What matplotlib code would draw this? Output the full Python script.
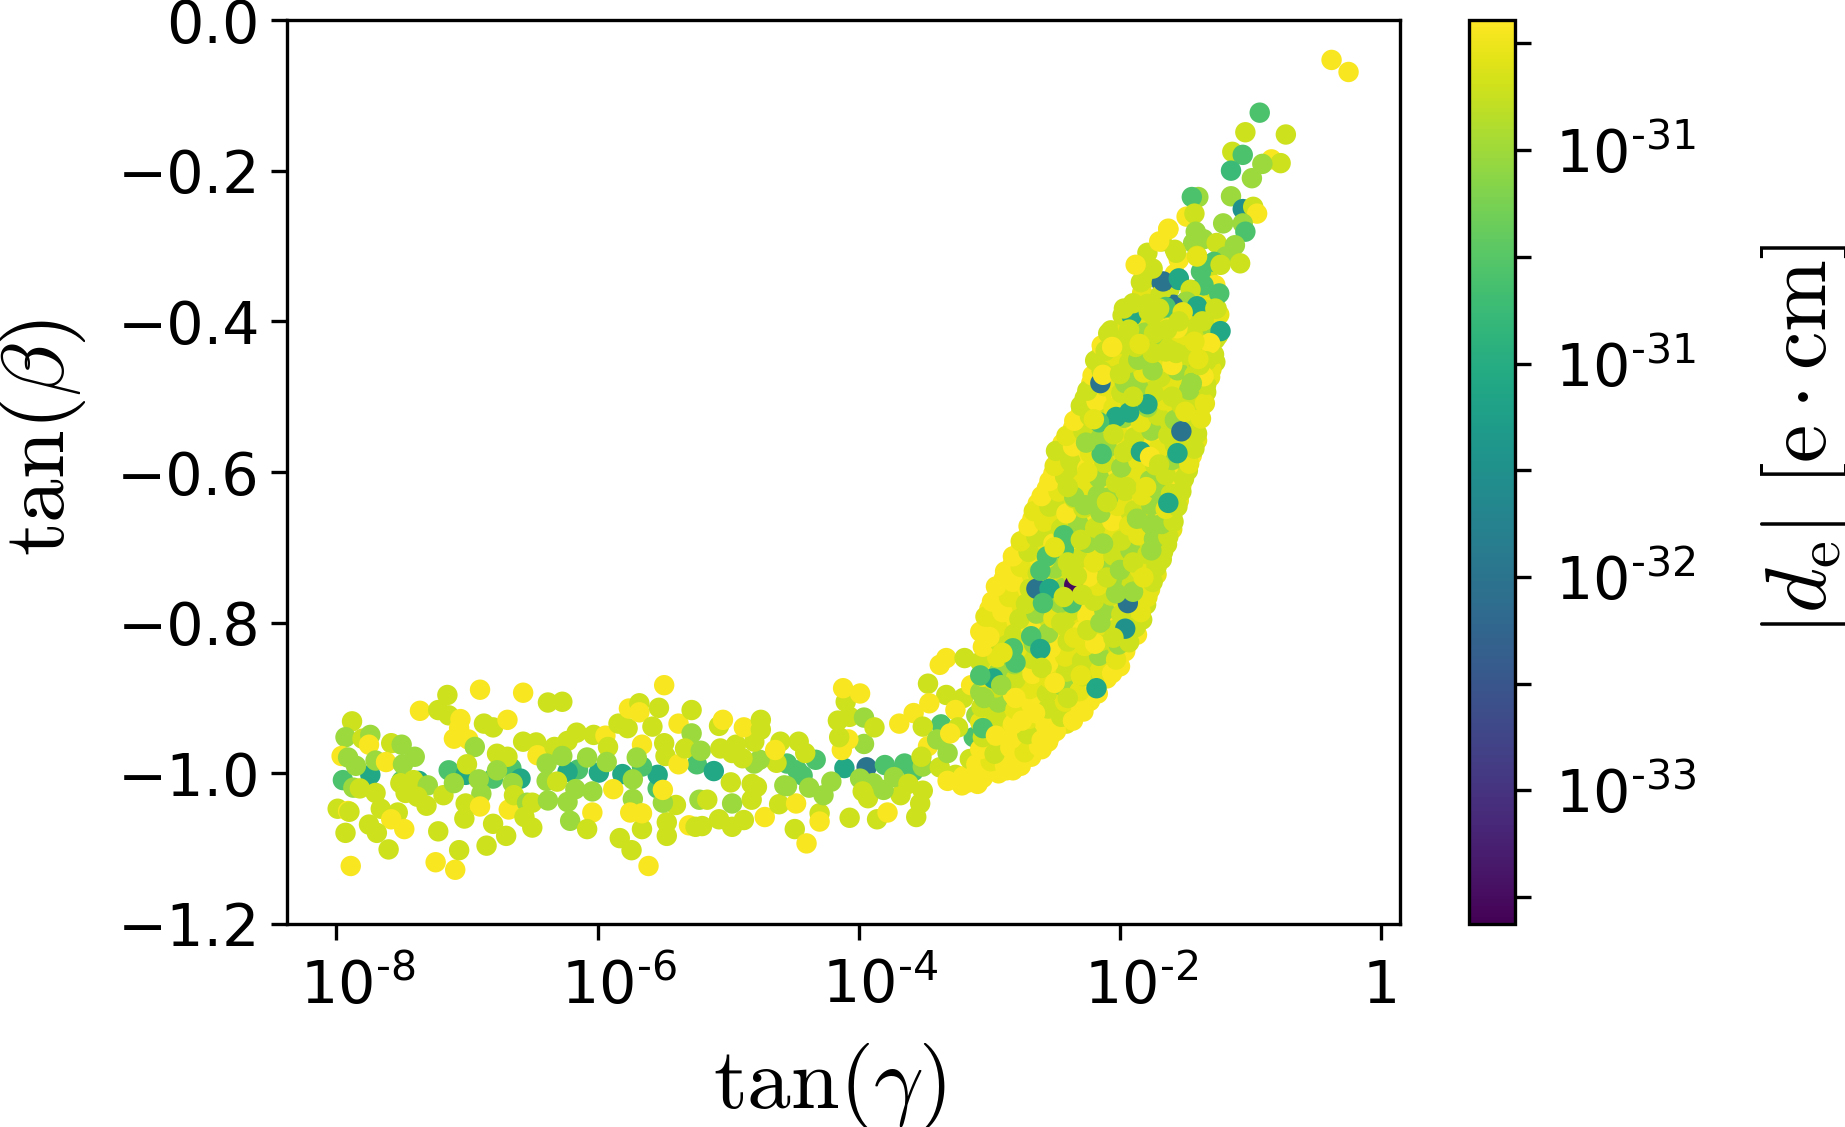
import matplotlib
matplotlib.use("Agg")
import matplotlib.pyplot as plt
from matplotlib.transforms import ScaledTranslation
import numpy as np

# colour levels, log10 of |d_e|
Y = -30.46
H = -30.54
L = -30.63
G = -30.82
M = -31.15
T = -31.45
B = -32.00
P = -32.90

# low tan(gamma) plateau
plateau_log_gamma = [
    -7.88, -7.93, -7.80, -7.74, -7.75, -7.58, -7.50, -7.40, -7.96, -7.91, -7.85, -7.70, -7.62, -7.49,
    -7.74, -7.95, -7.87, -7.82, -7.70, -7.51, -7.50, -7.41, -7.37, -7.30, -7.18, -7.47, -7.38, -7.31,
    -7.99, -7.91, -7.90, -7.66, -7.53, -7.58, -7.75, -7.69, -7.93, -7.48, -7.60, -7.89, -7.24, -7.09,
    -7.06, -7.22, -7.36, -7.22, -7.15, -6.90, -6.57, -6.38, -6.27, -7.14, -7.05, -7.06, -7.10, -6.99,
    -6.94, -7.00, -7.14, -7.10, -6.91, -7.01, -6.87, -6.80, -6.69, -6.77, -6.69, -6.77, -6.66, -6.80,
    -6.65, -6.59, -6.89, -7.01, -6.90, -7.02, -6.80, -6.70, -6.85, -6.68, -6.64, -6.54, -6.50, -6.56,
    -6.50, -6.57, -6.47, -6.46, -6.33, -6.23, -6.16, -6.39, -6.27, -6.15, -6.08, -5.99, -6.23, -6.39,
    -6.31, -6.17, -6.04, -6.38, -6.23, -6.21, -6.04, -6.08, -6.03, -5.94, -5.92, -5.93, -5.81, -5.88,
    -5.73, -5.73, -5.83, -5.74, -5.61, -5.66, -5.66, -5.75, -5.47, -5.47, -5.40, -5.50, -5.50, -5.54,
    -5.54, -5.84, -5.77, -5.76, -5.68, -5.68, -5.53, -5.49, -5.58, -5.38, -5.28, -5.28, -5.49, -5.66,
    -5.70, -5.66, -5.48, -5.38, -5.33, -5.21, -5.24, -5.11, -5.30, -5.20, -5.25, -5.22, -5.16, -5.07,
    -4.97, -4.88, -4.72, -4.97, -4.98, -4.82, -4.78, -4.82, -4.61, -4.48, -4.49, -4.40, -4.57, -4.55,
    -4.38, -4.43, -4.47, -4.33, -4.55, -4.63, -4.76, -4.80, -4.89, -4.97, -5.06, -4.94, -4.80, -4.60,
    -4.46, -4.41, -4.64, -5.07, -5.04, -4.88, -4.75, -4.75, -4.30, -4.30, -4.07, -3.86, -3.78, -3.56,
    -3.53, -3.51, -3.68, -4.27, -4.21, -3.99, -4.11, -3.94, -3.89, -3.97, -3.93, -3.81, -3.80, -3.65,
    -3.58, -3.73, -3.62, -3.51, -3.38, -3.32, -3.26, -3.20, -3.32, -3.09, -3.21, -3.15, -2.99, -3.47,
    -3.52, -3.96, -4.13, -4.08, -4.15, -4.16, -4.10, -4.12, -3.99, -4.07, -3.96, -3.88, -3.69, -3.58,
    -3.51, -3.47, -3.33, -3.20, -3.14, -3.46, -3.26, -3.38, -3.33, -3.19, -3.37, -3.24, -3.12, -3.10,
    -3.40, -3.30,
]
plateau_tan_beta = [
    -0.931, -0.952, -0.954, -0.949, -0.962, -0.960, -0.962, -0.978, -0.977, -0.979, -0.990, -0.983, -0.985, -0.988,
    -1.002, -1.009, -1.019, -1.020, -1.026, -1.013, -1.010, -1.009, -1.010, -1.016, -1.029, -1.026, -1.031, -1.043,
    -1.047, -1.050, -1.051, -1.047, -1.052, -1.061, -1.068, -1.079, -1.079, -1.074, -1.101, -1.123, -1.118, -1.128,
    -1.102, -1.077, -0.917, -0.916, -0.896, -0.889, -0.893, -0.906, -0.905, -0.923, -0.928, -0.940, -0.954, -0.955,
    -0.965, -0.988, -0.996, -1.013, -1.008, -1.002, -0.934, -0.939, -0.929, -0.974, -0.978, -0.996, -0.993, -1.007,
    -1.013, -1.007, -1.027, -1.040, -1.044, -1.060, -1.067, -1.083, -1.096, -1.048, -1.029, -1.039, -1.039, -1.058,
    -1.072, -0.958, -0.959, -0.976, -0.965, -0.957, -0.946, -0.987, -0.977, -0.995, -0.979, -0.999, -0.998, -1.010,
    -1.011, -1.021, -1.024, -1.036, -1.038, -1.063, -1.052, -1.074, -0.949, -0.950, -0.965, -0.985, -1.001, -1.021,
    -1.008, -1.034, -1.086, -1.102, -1.123, -1.074, -1.053, -1.052, -1.083, -1.065, -1.042, -1.039, -1.022, -1.020,
    -1.002, -0.934, -0.940, -0.914, -0.907, -0.919, -0.913, -0.883, -0.938, -0.934, -0.916, -0.947, -0.960, -0.962,
    -0.979, -0.991, -0.977, -0.988, -0.967, -0.970, -0.988, -0.997, -1.069, -1.070, -1.071, -1.035, -1.035, -1.061,
    -1.071, -1.062, -1.058, -1.040, -1.012, -1.014, -1.018, -1.035, -1.041, -1.040, -1.074, -1.093, -1.016, -1.017,
    -1.019, -1.003, -0.996, -0.982, -0.987, -0.986, -0.982, -0.987, -0.980, -0.973, -0.967, -0.962, -0.958, -0.958,
    -0.958, -0.973, -0.969, -0.937, -0.929, -0.939, -0.929, -0.942, -1.053, -1.064, -1.059, -1.061, -1.052, -1.058,
    -1.040, -1.023, -1.029, -1.029, -1.011, -1.007, -0.993, -0.992, -1.013, -1.024, -1.033, -1.022, -0.989, -0.987,
    -0.997, -1.005, -1.014, -0.991, -0.992, -0.973, -1.002, -1.004, -1.010, -1.014, -1.016, -0.981, -0.991, -0.964,
    -0.978, -0.961, -0.969, -0.955, -0.952, -0.930, -0.905, -0.887, -0.894, -0.925, -0.926, -0.939, -0.934, -0.920,
    -0.938, -0.881, -0.896, -0.900, -0.883, -0.907, -0.916, -0.856, -0.847, -0.847, -0.935, -0.939, -0.952, -0.923,
    -0.955, -0.947,
]
plateau_log_de = [
    L, G, L, G, Y, L, G, G, Y, G, G, G, Y, G,
    T, M, G, L, L, L, M, L, T, G, L, L, L, L,
    L, Y, L, L, L, Y, L, L, L, Y, L, Y, Y, Y,
    L, L, Y, L, L, Y, Y, L, L, L, Y, Y, Y, Y,
    G, L, M, G, G, T, L, L, Y, L, L, G, M, M,
    G, T, G, L, Y, L, L, L, L, Y, L, G, L, L,
    L, L, L, Y, L, L, L, G, G, M, G, T, T, G,
    L, G, G, G, G, G, Y, L, L, Y, L, G, T, Y,
    G, G, L, L, Y, L, Y, Y, L, L, L, G, Y, M,
    T, L, L, Y, L, Y, L, Y, L, Y, L, G, L, Y,
    G, M, L, Y, L, G, M, T, Y, L, L, G, L, L,
    L, L, Y, G, L, L, L, L, L, Y, L, Y, G, G,
    G, M, M, M, M, L, G, G, L, L, L, L, L, L,
    L, L, Y, L, Y, Y, L, L, L, Y, L, L, Y, L,
    L, L, L, G, G, G, T, B, G, L, L, G, M, M,
    M, G, L, G, L, G, L, Y, Y, Y, Y, L, Y, Y,
    L, G, Y, Y, L, L, L, Y, Y, L, G, L, Y, Y,
    L, L, L, L, Y, Y, Y, Y, Y, L, M, L, M, G,
    G, Y,
]

# dense rising band, one line per level of tan(beta)
band_log_gamma = [
    -3.16, -3.05, -2.93, -2.82,
    -3.10, -2.99, -2.88, -2.78, -2.68,
    -3.07, -2.96, -2.84, -2.73, -2.62, -2.55,
    -3.05, -2.94, -2.83, -2.71, -2.60, -2.49,
    -3.07, -2.95, -2.82, -2.70, -2.57, -2.45, -2.36,
    -3.06, -2.93, -2.80, -2.68, -2.55, -2.42, -2.30, -2.23,
    -3.07, -2.95, -2.82, -2.69, -2.56, -2.43, -2.31, -2.19,
    -3.05, -2.93, -2.80, -2.67, -2.54, -2.41, -2.28, -2.15, -2.06,
    -3.07, -2.94, -2.81, -2.68, -2.55, -2.42, -2.29, -2.16, -2.03,
    -3.05, -2.92, -2.79, -2.66, -2.53, -2.40, -2.27, -2.14, -2.01, -1.93,
    -3.07, -2.94, -2.81, -2.68, -2.55, -2.42, -2.29, -2.16, -2.03, -1.88,
    -3.03, -2.90, -2.77, -2.64, -2.51, -2.38, -2.25, -2.12, -1.99, -1.84,
    -2.98, -2.85, -2.72, -2.59, -2.46, -2.33, -2.20, -2.07, -1.94, -1.79,
    -2.95, -2.82, -2.69, -2.56, -2.43, -2.30, -2.17, -2.04, -1.91, -1.75,
    -2.88, -2.76, -2.63, -2.50, -2.37, -2.24, -2.11, -1.98, -1.85, -1.72,
    -2.82, -2.70, -2.57, -2.44, -2.31, -2.18, -2.05, -1.92, -1.79, -1.67,
    -2.76, -2.64, -2.51, -2.38, -2.25, -2.12, -1.99, -1.86, -1.74, -1.63,
    -2.70, -2.58, -2.45, -2.32, -2.19, -2.06, -1.93, -1.80, -1.68, -1.59,
    -2.66, -2.54, -2.41, -2.28, -2.15, -2.02, -1.89, -1.76, -1.65, -1.56,
    -2.60, -2.47, -2.35, -2.22, -2.09, -1.96, -1.83, -1.71, -1.61, -1.53,
    -2.54, -2.42, -2.29, -2.16, -2.03, -1.90, -1.77, -1.65, -1.51,
    -2.50, -2.38, -2.25, -2.12, -1.99, -1.86, -1.73, -1.60, -1.47,
    -2.49, -2.36, -2.23, -2.10, -1.97, -1.84, -1.71, -1.58, -1.43,
    -2.41, -2.28, -2.15, -2.02, -1.89, -1.76, -1.63, -1.50, -1.41,
    -2.35, -2.23, -2.10, -1.97, -1.84, -1.71, -1.58, -1.45, -1.38,
    -2.30, -2.18, -2.05, -1.92, -1.79, -1.66, -1.53, -1.40, -1.35,
    -2.25, -2.12, -1.99, -1.86, -1.73, -1.60, -1.47, -1.34,
    -2.21, -2.08, -1.95, -1.82, -1.69, -1.56, -1.43, -1.30,
    -2.19, -2.06, -1.93, -1.80, -1.67, -1.54, -1.41, -1.28,
    -2.14, -2.01, -1.88, -1.75, -1.62, -1.49, -1.36, -1.27,
    -2.07, -1.94, -1.81, -1.68, -1.55, -1.42, -1.29,
    -1.98, -1.86, -1.73, -1.60, -1.47, -1.34, -1.24,
]
band_tan_beta = [
    -1.012, -1.006, -1.000, -0.996,
    -0.988, -0.984, -0.990, -0.982, -0.978,
    -0.968, -0.974, -0.966, -0.972, -0.964, -0.958,
    -0.952, -0.946, -0.954, -0.948, -0.956, -0.944,
    -0.932, -0.926, -0.935, -0.928, -0.934, -0.925, -0.930,
    -0.912, -0.906, -0.915, -0.908, -0.914, -0.905, -0.911, -0.904,
    -0.892, -0.886, -0.895, -0.888, -0.894, -0.885, -0.891, -0.884,
    -0.872, -0.866, -0.875, -0.868, -0.874, -0.865, -0.871, -0.864, -0.867,
    -0.852, -0.846, -0.855, -0.848, -0.854, -0.845, -0.851, -0.844, -0.849,
    -0.832, -0.826, -0.835, -0.828, -0.834, -0.825, -0.831, -0.824, -0.829, -0.826,
    -0.812, -0.806, -0.815, -0.808, -0.814, -0.805, -0.811, -0.804, -0.809, -0.806,
    -0.792, -0.786, -0.795, -0.788, -0.794, -0.785, -0.791, -0.784, -0.789, -0.786,
    -0.772, -0.766, -0.775, -0.768, -0.774, -0.765, -0.771, -0.764, -0.769, -0.766,
    -0.752, -0.746, -0.755, -0.748, -0.754, -0.745, -0.751, -0.744, -0.749, -0.746,
    -0.732, -0.726, -0.735, -0.728, -0.734, -0.725, -0.731, -0.724, -0.729, -0.726,
    -0.712, -0.706, -0.715, -0.708, -0.714, -0.705, -0.711, -0.704, -0.709, -0.706,
    -0.692, -0.686, -0.695, -0.688, -0.694, -0.685, -0.691, -0.684, -0.689, -0.686,
    -0.672, -0.666, -0.675, -0.668, -0.674, -0.665, -0.671, -0.664, -0.669, -0.666,
    -0.652, -0.646, -0.655, -0.648, -0.654, -0.645, -0.651, -0.644, -0.649, -0.646,
    -0.632, -0.626, -0.635, -0.628, -0.634, -0.625, -0.631, -0.624, -0.629, -0.626,
    -0.612, -0.606, -0.615, -0.608, -0.614, -0.605, -0.611, -0.604, -0.609,
    -0.592, -0.586, -0.595, -0.588, -0.594, -0.585, -0.591, -0.584, -0.589,
    -0.572, -0.566, -0.575, -0.568, -0.574, -0.565, -0.571, -0.564, -0.569,
    -0.552, -0.546, -0.555, -0.548, -0.554, -0.545, -0.551, -0.544, -0.549,
    -0.532, -0.526, -0.535, -0.528, -0.534, -0.525, -0.531, -0.524, -0.529,
    -0.512, -0.506, -0.515, -0.508, -0.514, -0.505, -0.511, -0.504, -0.509,
    -0.492, -0.486, -0.495, -0.488, -0.494, -0.485, -0.491, -0.484,
    -0.472, -0.466, -0.475, -0.468, -0.474, -0.465, -0.471, -0.464,
    -0.452, -0.446, -0.455, -0.448, -0.454, -0.445, -0.451, -0.444,
    -0.432, -0.426, -0.435, -0.428, -0.434, -0.425, -0.431, -0.424,
    -0.412, -0.406, -0.415, -0.408, -0.414, -0.405, -0.411,
    -0.392, -0.386, -0.395, -0.388, -0.394, -0.385, -0.391,
]
band_log_de = [
    Y, Y, Y, Y,
    Y, H, Y, Y, Y,
    Y, L, Y, H, Y, Y,
    L, H, Y, L, Y, Y,
    H, L, Y, H, Y, L, Y,
    L, G, H, Y, L, H, Y, Y,
    G, L, Y, H, L, G, H, Y,
    H, G, L, Y, H, L, L, H, Y,
    L, H, G, L, Y, H, L, G, H,
    Y, L, H, G, Y, L, H, L, G, L,
    Y, H, L, Y, G, L, Y, H, L, L,
    H, Y, L, G, H, L, Y, G, L, H,
    Y, H, L, L, G, H, L, L, G, H,
    Y, Y, L, H, G, L, H, G, L, L,
    Y, H, L, G, L, H, G, L, H, L,
    Y, L, H, G, L, H, L, G, L, L,
    H, L, Y, L, G, H, L, H, G, L,
    Y, H, L, G, L, Y, H, L, G, L,
    H, L, Y, L, G, H, L, G, H, L,
    Y, H, L, H, G, L, H, G, L, L,
    Y, L, H, G, L, H, G, L, L,
    H, L, Y, L, G, H, L, G, H,
    L, Y, H, G, L, Y, H, L, L,
    H, L, G, H, L, G, L, H, L,
    Y, L, H, G, H, L, G, L, H,
    L, Y, H, L, G, H, L, L, H,
    L, H, L, G, L, H, G, L,
    Y, L, G, H, L, G, L, H,
    L, H, L, G, H, L, G, L,
    Y, L, H, G, L, H, L, L,
    L, H, G, L, H, L, G,
    L, H, L, G, L, L, H,
]

# second layer of the band, between the levels above, lying underneath
fill_log_gamma = [
    -3.10, -2.98, -2.87, -2.76,
    -3.04, -2.93, -2.82, -2.71, -2.60,
    -3.01, -2.89, -2.77, -2.66, -2.54,
    -3.00, -2.88, -2.76, -2.64, -2.52, -2.41,
    -3.01, -2.88, -2.76, -2.63, -2.50, -2.38, -2.28,
    -3.00, -2.88, -2.75, -2.62, -2.49, -2.37, -2.25, -2.17,
    -3.01, -2.88, -2.75, -2.62, -2.49, -2.35, -2.22, -2.10,
    -3.00, -2.87, -2.74, -2.61, -2.48, -2.35, -2.22, -2.09, -2.00,
    -2.98, -2.85, -2.72, -2.59, -2.46, -2.33, -2.20, -2.07, -1.96,
    -3.00, -2.87, -2.74, -2.61, -2.48, -2.35, -2.22, -2.09, -1.96, -1.87,
    -3.00, -2.87, -2.74, -2.61, -2.48, -2.35, -2.22, -2.09, -1.96, -1.83,
    -3.00, -2.84, -2.71, -2.58, -2.45, -2.32, -2.19, -2.06, -1.93, -1.80,
    -2.92, -2.79, -2.66, -2.53, -2.40, -2.27, -2.14, -2.01, -1.88, -1.77,
    -2.89, -2.76, -2.63, -2.50, -2.37, -2.24, -2.11, -1.98, -1.85, -1.72,
    -2.82, -2.69, -2.56, -2.43, -2.30, -2.17, -2.04, -1.91, -1.78, -1.68,
    -2.76, -2.63, -2.50, -2.37, -2.24, -2.11, -1.98, -1.85, -1.72, -1.64,
    -2.70, -2.57, -2.44, -2.31, -2.18, -2.05, -1.92, -1.80, -1.68, -1.60,
    -2.67, -2.52, -2.39, -2.26, -2.13, -2.00, -1.87, -1.74, -1.60,
    -2.63, -2.48, -2.35, -2.22, -2.09, -1.96, -1.83, -1.70, -1.55,
    -2.56, -2.44, -2.31, -2.18, -2.05, -1.92, -1.79, -1.66, -1.53,
    -2.51, -2.36, -2.23, -2.10, -1.97, -1.84, -1.71, -1.58, -1.48,
    -2.47, -2.32, -2.19, -2.06, -1.93, -1.80, -1.67, -1.54, -1.45,
    -2.44, -2.30, -2.17, -2.04, -1.91, -1.78, -1.65, -1.52, -1.41,
    -2.36, -2.22, -2.09, -1.96, -1.83, -1.70, -1.57, -1.44,
    -2.30, -2.17, -2.04, -1.91, -1.78, -1.65, -1.52, -1.38,
    -2.27, -2.12, -1.99, -1.86, -1.73, -1.60, -1.47, -1.34,
    -2.22, -2.06, -1.93, -1.80, -1.67, -1.54, -1.41, -1.31,
    -2.17, -2.02, -1.89, -1.76, -1.63, -1.50, -1.37, -1.27,
    -2.14, -1.97, -1.84, -1.71, -1.58, -1.45, -1.32,
    -2.02, -1.89, -1.76, -1.63, -1.50, -1.37, -1.25,
    -1.92, -1.80, -1.67, -1.54, -1.41, -1.28,
    -1.90, -1.78, -1.55, -1.30,
    -1.83, -1.62, -1.42, -1.29,
    -1.78, -1.58, -1.33,
]
fill_tan_beta = [
    -0.998, -0.993, -0.996, -0.990,
    -0.980, -0.975, -0.978, -0.972, -0.968,
    -0.960, -0.956, -0.962, -0.957, -0.952,
    -0.942, -0.937, -0.941, -0.936, -0.940, -0.934,
    -0.922, -0.917, -0.921, -0.916, -0.920, -0.915, -0.918,
    -0.902, -0.897, -0.901, -0.896, -0.900, -0.895, -0.899, -0.894,
    -0.882, -0.877, -0.881, -0.876, -0.880, -0.875, -0.879, -0.874,
    -0.862, -0.857, -0.861, -0.856, -0.860, -0.855, -0.859, -0.854, -0.858,
    -0.842, -0.837, -0.841, -0.836, -0.840, -0.835, -0.839, -0.834, -0.838,
    -0.822, -0.817, -0.821, -0.816, -0.820, -0.815, -0.819, -0.814, -0.818, -0.816,
    -0.802, -0.797, -0.801, -0.796, -0.800, -0.795, -0.799, -0.794, -0.798, -0.796,
    -0.782, -0.777, -0.781, -0.776, -0.780, -0.775, -0.779, -0.774, -0.778, -0.776,
    -0.762, -0.757, -0.761, -0.756, -0.760, -0.755, -0.759, -0.754, -0.758, -0.756,
    -0.742, -0.737, -0.741, -0.736, -0.740, -0.735, -0.739, -0.734, -0.738, -0.736,
    -0.722, -0.717, -0.721, -0.716, -0.720, -0.715, -0.719, -0.714, -0.718, -0.716,
    -0.702, -0.697, -0.701, -0.696, -0.700, -0.695, -0.699, -0.694, -0.698, -0.696,
    -0.682, -0.677, -0.681, -0.676, -0.680, -0.675, -0.679, -0.674, -0.678, -0.676,
    -0.662, -0.657, -0.661, -0.656, -0.660, -0.655, -0.659, -0.654, -0.658,
    -0.642, -0.637, -0.641, -0.636, -0.640, -0.635, -0.639, -0.634, -0.638,
    -0.622, -0.617, -0.621, -0.616, -0.620, -0.615, -0.619, -0.614, -0.618,
    -0.602, -0.597, -0.601, -0.596, -0.600, -0.595, -0.599, -0.594, -0.598,
    -0.582, -0.577, -0.581, -0.576, -0.580, -0.575, -0.579, -0.574, -0.578,
    -0.562, -0.557, -0.561, -0.556, -0.560, -0.555, -0.559, -0.554, -0.558,
    -0.542, -0.537, -0.541, -0.536, -0.540, -0.535, -0.539, -0.534,
    -0.522, -0.517, -0.521, -0.516, -0.520, -0.515, -0.519, -0.514,
    -0.502, -0.497, -0.501, -0.496, -0.500, -0.495, -0.499, -0.494,
    -0.482, -0.477, -0.481, -0.476, -0.480, -0.475, -0.479, -0.474,
    -0.462, -0.457, -0.461, -0.456, -0.460, -0.455, -0.459, -0.454,
    -0.442, -0.437, -0.441, -0.436, -0.440, -0.435, -0.439,
    -0.422, -0.417, -0.421, -0.416, -0.420, -0.415, -0.419,
    -0.402, -0.397, -0.401, -0.396, -0.400, -0.395,
    -0.382, -0.377, -0.381, -0.376,
    -0.362, -0.357, -0.361, -0.356,
    -0.342, -0.337, -0.341,
]
fill_log_de = [
    Y, Y, Y, Y,
    Y, Y, H, Y, Y,
    Y, H, Y, Y, Y,
    Y, Y, H, Y, Y, H,
    Y, H, Y, Y, H, Y, Y,
    Y, Y, H, Y, Y, L, Y, Y,
    Y, L, Y, H, Y, Y, H, Y,
    Y, H, Y, Y, L, Y, H, Y, Y,
    Y, Y, H, L, Y, H, Y, L, Y,
    Y, L, Y, H, Y, L, H, Y, L, Y,
    Y, Y, H, L, Y, H, L, Y, H, L,
    Y, H, Y, L, H, Y, L, H, Y, L,
    Y, Y, H, L, Y, H, L, Y, L, H,
    Y, H, Y, L, H, L, Y, H, L, H,
    Y, Y, L, H, Y, L, H, L, Y, L,
    Y, H, L, Y, H, L, Y, L, H, L,
    Y, L, H, Y, L, H, L, Y, L, H,
    Y, H, L, Y, H, L, H, Y, L,
    Y, L, H, Y, L, H, Y, L, H,
    Y, H, L, H, Y, L, H, L, Y,
    Y, L, H, Y, L, H, L, Y, L,
    H, Y, L, H, Y, L, H, L, Y,
    Y, L, H, Y, L, H, Y, L, H,
    Y, H, L, Y, H, L, H, L,
    Y, L, H, L, Y, H, L, H,
    L, H, Y, L, H, L, Y, L,
    Y, L, H, L, Y, H, L, H,
    L, H, L, Y, H, L, H, L,
    Y, L, H, L, H, Y, L,
    L, H, Y, L, H, L, L,
    L, H, L, Y, L, H,
    L, Y, L, H,
    H, L, H, L,
    L, Y, L,
]

# points that stay visible on top of the band and the sparse upper tip
top_log_gamma = [
    -1.91, -1.79, -1.93, -2.03, -2.15, -2.16, -2.14, -1.84, -1.56, -1.63, -1.53, -2.35, -2.64, -2.54,
    -2.61, -2.43, -2.43, -2.56, -2.59, -2.37, -1.94, -1.96, -2.68, -2.82, -2.80, -2.97, -2.91, -2.18,
    -2.61, -2.19, -3.00, -1.90, -2.03, -2.43, -1.76, -1.76, -2.13, -1.87, -2.27, -2.17, -2.35, -2.26,
    -1.86, -1.75, -1.45, -1.96, -1.66, -1.49, -1.36, -1.59, -1.41, -1.68, -1.55, -1.57, -2.09, -2.11,
    -2.14, -1.96, -1.74, -1.90, -1.78, -1.69, -1.26, -1.36, -1.31,
    -0.38, -0.25, -0.93, -1.04, -0.73, -1.14, -1.06, -0.84, -0.77, -0.91, -1.15, -0.99, -1.15, -1.40,
    -1.45, -1.06, -0.98, -0.95, -1.49, -1.43, -1.21, -1.06, -1.04, -1.63, -1.42, -1.36, -1.26, -1.44,
    -1.12, -1.68, -1.58, -1.19, -1.41, -1.55, -1.28, -1.08, -1.23, -1.38, -1.67, -1.55, -1.27, -1.36,
    -1.24, -1.46, -1.49, -1.59, -1.41, -1.65, -1.27, -1.37, -1.47, -1.56, -1.63, -1.23, -1.31, -1.49,
    -1.60, -1.39, -1.60, -1.34, -1.36, -1.45,
    -1.79, -1.70, -1.63, -1.84, -1.75, -1.88, -1.57, -1.41, -1.79, -1.97, -1.70, -1.52, -1.64, -1.93,
    -2.06, -1.88, -1.75, -1.43, -1.57, -1.39,
]
top_tan_beta = [
    -0.393, -0.510, -0.521, -0.527, -0.482, -0.534, -0.576, -0.573, -0.575, -0.641, -0.546, -0.750, -0.755, -0.755,
    -0.731, -0.684, -0.703, -0.712, -0.774, -0.774, -0.774, -0.808, -0.818, -0.834, -0.853, -0.874, -0.883, -0.887,
    -0.835, -0.828, -0.819, -0.759, -0.761, -0.766, -0.670, -0.704, -0.695, -0.662, -0.644, -0.631, -0.633, -0.561,
    -0.451, -0.465, -0.482, -0.482, -0.381, -0.373, -0.352, -0.378, -0.381, -0.349, -0.345, -0.409, -0.416, -0.439,
    -0.466, -0.431, -0.416, -0.376, -0.387, -0.365, -0.383, -0.399, -0.429,
    -0.053, -0.069, -0.123, -0.149, -0.152, -0.175, -0.179, -0.185, -0.190, -0.191, -0.200, -0.210, -0.234, -0.235,
    -0.235, -0.251, -0.248, -0.257, -0.261, -0.257, -0.270, -0.270, -0.281, -0.277, -0.281, -0.291, -0.296, -0.296,
    -0.299, -0.294, -0.305, -0.314, -0.313, -0.318, -0.321, -0.323, -0.325, -0.334, -0.347, -0.343, -0.352, -0.352,
    -0.363, -0.358, -0.374, -0.380, -0.380, -0.381, -0.383, -0.400, -0.407, -0.409, -0.409, -0.413, -0.429, -0.445,
    -0.442, -0.451, -0.458, -0.453, -0.473, -0.482,
    -0.309, -0.294, -0.278, -0.348, -0.330, -0.325, -0.309, -0.314, -0.377, -0.383, -0.383, -0.388, -0.411, -0.411,
    -0.434, -0.434, -0.442, -0.427, -0.442, -0.458,
]
top_log_de = [
    T, T, T, T, B, M, M, T, T, T, B, P, B, T,
    M, M, M, M, M, M, B, -31.70, M, M, M, T, G, T,
    T, Y, Y, G, G, L, G, G, G, G, G, G, G, G,
    G, G, G, G, M, G, M, B, T, B, T, Y, L, L,
    L, L, L, L, L, L, L, L, Y,
    Y, Y, M, L, L, L, M, Y, L, G, -31.25, G, G, G,
    M, -31.70, L, Y, Y, L, G, G, M, Y, G, G, L, G,
    G, L, L, G, L, Y, M, L, L, M, B, T, Y, M,
    M, L, G, B, T, M, L, L, L, Y, Y, T, Y, L,
    L, L, Y, L, Y, G,
    L, Y, Y, L, L, Y, L, H, L, L, L, H, L, L,
    Y, L, L, H, L, L,
]

# last lime and yellow points, lying over the darker ones
over_log_gamma = [
    -3.05, -3.07, -3.04, -2.24, -2.29, -2.33, -2.13, -1.77, -2.40, -2.50, -2.30, -2.20, -2.10, -2.00,
    -1.90, -1.82, -2.45, -2.35, -2.25, -2.15, -2.05, -2.60, -2.50, -2.40, -2.30, -2.65, -2.80, -2.90,
    -2.75, -2.55, -2.95, -2.40, -2.25, -2.10, -1.95, -1.80, -1.70, -2.20, -2.05, -1.90, -1.60, -1.50,
    -1.65, -1.85, -2.00, -1.40, -1.55,
]
over_tan_beta = [
    -0.940, -0.870, -0.900, -0.739, -0.763, -0.738, -0.471, -0.580, -0.720, -0.700, -0.690, -0.720, -0.740, -0.730,
    -0.720, -0.740, -0.800, -0.820, -0.810, -0.800, -0.820, -0.860, -0.880, -0.900, -0.870, -0.920, -0.900, -0.840,
    -0.930, -0.950, -0.950, -0.620, -0.600, -0.640, -0.620, -0.620, -0.590, -0.530, -0.550, -0.500, -0.500, -0.520,
    -0.440, -0.430, -0.470, -0.450, -0.400,
]
over_log_de = [
    M, M, G, Y, L, L, Y, Y, L, H, L, H, L, G,
    L, H, L, H, L, G, L, L, Y, L, H, Y, Y, H,
    Y, Y, Y, L, H, L, L, H, L, H, L, L, L, H,
    L, H, L, H, L,
]

x_tick_values = [1e-8, 1e-6, 1e-4, 1e-2, 1]
x_tick_labels = [r"$\mathdefault{10^{\text{-8}}}$", r"$\mathdefault{10^{\text{-6}}}$",
                 r"$\mathdefault{10^{\text{-4}}}$", r"$\mathdefault{10^{\text{-2}}}$", "1"]
y_tick_values = [-1.2, -1.0, -0.8, -0.6, -0.4, -0.2, 0.0]
cbar_ticks = [-32.9, -32.6, -32.3, -32.0, -31.7, -31.4, -31.1, -30.8, -30.5]
cbar_labels = ["", r"$\mathdefault{10^{\text{-33}}}$", "", r"$\mathdefault{10^{\text{-32}}}$", "",
               r"$\mathdefault{10^{\text{-31}}}$", "", r"$\mathdefault{10^{\text{-31}}}$", ""]

plt.rcParams["font.size"] = 14.1
plt.rcParams["xtick.major.size"] = 3.8
plt.rcParams["ytick.major.size"] = 3.8
plt.rcParams["ytick.major.pad"] = 2.7
plt.rcParams["xtick.major.pad"] = 4.3

# dark plateau points go underneath, the paler ones overlap them
plateau_x = np.array(plateau_log_gamma)
plateau_y = np.array(plateau_tan_beta)
plateau_c = np.array(plateau_log_de)
dark = plateau_c < -31.0

log_gamma = np.concatenate([plateau_x[dark], plateau_x[~dark], fill_log_gamma, band_log_gamma, top_log_gamma, over_log_gamma])
tan_beta = np.concatenate([plateau_y[dark], plateau_y[~dark], fill_tan_beta, band_tan_beta, top_tan_beta, over_tan_beta])
log_de = np.concatenate([plateau_c[dark], plateau_c[~dark], fill_log_de, band_log_de, top_log_de, over_log_de])

fig = plt.figure(figsize=(6.15, 1127 / 300))
ax = fig.add_axes([287 / 1845, 1 - 924 / 1127, (1400 - 287) / 1845, (924 - 20) / 1127])
cax = fig.add_axes([1469 / 1845, 1 - 924 / 1127, 46 / 1845, (924 - 20) / 1127])

sc = ax.scatter(10.0 ** log_gamma, tan_beta, c=log_de, cmap="viridis", vmin=-32.976, vmax=-30.434,
                s=24, linewidths=0)
ax.set_xscale("log")
ax.set_xlim(10 ** -8.378, 10 ** 0.144)
ax.set_ylim(-1.2, 0.0)
ax.set_xticks(x_tick_values)
ax.set_xticklabels(x_tick_labels)
ax.minorticks_off()
ax.set_yticks(y_tick_values)
# the power labels sit a little right of their ticks in the original
for lab in ax.get_xticklabels()[:4]:
    lab.set_transform(lab.get_transform() + ScaledTranslation(21 / 300, 0, fig.dpi_scale_trans))

ax.set_xlabel(r"$\tan(\gamma)$", fontsize=21, math_fontfamily="cm", labelpad=5.9, x=0.4873)
ax.set_ylabel(r"$\tan(\beta)$", fontsize=21, math_fontfamily="cm", labelpad=6.9, y=0.538)

cbar = fig.colorbar(sc, cax=cax, ticks=cbar_ticks)
cbar.ax.set_yticklabels(cbar_labels)
cbar.ax.tick_params(pad=5.8)
cbar.set_label(r"$|d_{\mathrm{e}}|\ [\mathrm{e}\cdot\mathrm{cm}]$", fontsize=20.7, math_fontfamily="cm",
               labelpad=15, y=0.535)

plt.savefig("out.png", dpi=300)
